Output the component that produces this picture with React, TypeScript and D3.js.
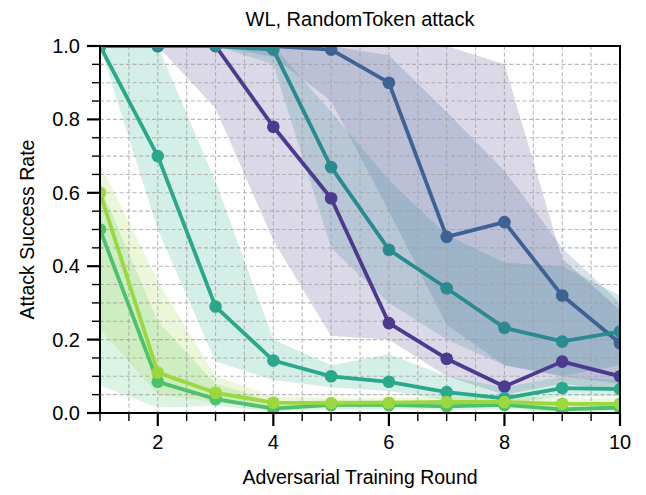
import React from "react";
import * as d3 from "d3";

const rounds = [1, 2, 3, 4, 5, 6, 7, 8, 9, 10];

const s1Mean = [1, 1, 1, 0.78, 0.585, 0.245, 0.148, 0.072, 0.14, 0.1];
const s1Low = [1, 1, 0.83, 0.47, 0.21, 0.2, 0.1, 0.05, 0.08, 0.06];
const s1High = [1, 1, 1, 1, 1, 1, 1, 0.95, 0.42, 0.28];

const s2Mean = [1, 1, 1, 1, 0.99, 0.9, 0.48, 0.52, 0.32, 0.19];
const s2Low = [1, 1, 1, 0.97, 0.85, 0.55, 0.24, 0.13, 0.1, 0.08];
const s2High = [1, 1, 1, 1, 1, 0.975, 0.82, 0.66, 0.45, 0.3];

const s3Mean = [1, 1, 1, 0.99, 0.67, 0.445, 0.34, 0.232, 0.195, 0.222];
const s3Low = [1, 1, 1, 0.95, 0.45, 0.3, 0.2, 0.13, 0.1, 0.13];
const s3High = [1, 1, 1, 1, 0.82, 0.635, 0.485, 0.41, 0.4, 0.32];

const s4Mean = [1, 0.7, 0.29, 0.143, 0.1, 0.085, 0.057, 0.04, 0.068, 0.065];
const s4Low = [1, 0.5, 0.14, 0.09, 0.07, 0.06, 0.035, 0.025, 0.045, 0.045];
const s4High = [1, 1, 0.63, 0.2, 0.13, 0.16, 0.1, 0.07, 0.1, 0.09];

const s5Mean = [0.5, 0.085, 0.038, 0.012, 0.022, 0.022, 0.018, 0.022, 0.01, 0.015];
const s5Low = [0.075, 0.015, 0.02, 0.004, 0.01, 0.01, 0.008, 0.01, 0.003, 0.005];
const s5High = [0.62, 0.25, 0.08, 0.03, 0.035, 0.035, 0.03, 0.035, 0.025, 0.03];

const s6Mean = [0.6, 0.11, 0.055, 0.028, 0.027, 0.028, 0.03, 0.03, 0.025, 0.025];
const s6Low = [0.23, 0.05, 0.03, 0.015, 0.015, 0.015, 0.018, 0.018, 0.015, 0.015];
const s6High = [0.68, 0.36, 0.1, 0.045, 0.04, 0.04, 0.045, 0.045, 0.04, 0.04];

const seriesColors = ["#4b3a8e", "#3e6294", "#2b8990", "#2aa88a", "#4cc26c", "#9ad83e"];

const xTickLabels = [2, 4, 6, 8, 10];
const yTickLabels = [0, 0.2, 0.4, 0.6, 0.8, 1.0];

const title = "WL, RandomToken attack";
const xLabel = "Adversarial Training Round";
const yLabel = "Attack Success Rate";

const W = 646;
const H = 495;
const L = 100;
const R = 620;
const T = 46;
const B = 413;

export default function App() {
  const x = d3.scaleLinear().domain([1, 10]).range([L, R]);
  const y = d3.scaleLinear().domain([0, 1]).range([B, T]);

  const series = [
    { mean: s1Mean, low: s1Low, high: s1High },
    { mean: s2Mean, low: s2Low, high: s2High },
    { mean: s3Mean, low: s3Low, high: s3High },
    { mean: s4Mean, low: s4Low, high: s4High },
    { mean: s5Mean, low: s5Low, high: s5High },
    { mean: s6Mean, low: s6Low, high: s6High },
  ].map((s, i) => ({ ...s, color: seriesColors[i] }));

  const line = d3
    .line<number>()
    .x((_, i) => x(rounds[i]))
    .y((d) => y(d));

  const bandArea = (low: number[], high: number[]) =>
    d3
      .area<number>()
      .x((_, i) => x(rounds[i]))
      .y0((_, i) => y(low[i]))
      .y1((_, i) => y(high[i]))(low) || "";

  const xGrid = d3.range(1, 10.01, 0.5);
  const yGrid = d3.range(0, 1.001, 0.05);
  const font = "'Liberation Sans', Arial, sans-serif";

  return (
    <svg
      width={W}
      height={H}
      style={{ position: "absolute", left: 0, top: 0, background: "#fff" }}
      fontFamily={font}
    >
      <defs>
        <clipPath id="plotClip">
          <rect x={L} y={T} width={R - L} height={B - T} />
        </clipPath>
      </defs>
      <rect x={0} y={0} width={W} height={H} fill="#fff" />
      <g clipPath="url(#plotClip)">
        {series.map((s, i) => (
          <path key={"band" + i} d={bandArea(s.low, s.high)} fill={s.color} fillOpacity={0.2} stroke="none" />
        ))}
        {xGrid.map((v, i) => (
          <line
            key={"gx" + i}
            x1={x(v)}
            x2={x(v)}
            y1={T}
            y2={B}
            stroke="#a0a0a0"
            strokeOpacity={0.75}
            strokeWidth={1.1}
            strokeDasharray="4,2.5"
          />
        ))}
        {yGrid.map((v, i) => (
          <line
            key={"gy" + i}
            x1={L}
            x2={R}
            y1={y(v)}
            y2={y(v)}
            stroke="#a0a0a0"
            strokeOpacity={0.75}
            strokeWidth={1.1}
            strokeDasharray="4,2.5"
          />
        ))}
        {series.map((s, i) => (
          <g key={"ser" + i}>
            <path d={line(s.mean) || ""} fill="none" stroke={s.color} strokeWidth={3.8} strokeLinejoin="round" />
            {s.mean.map((v, j) => (
              <circle key={j} cx={x(rounds[j])} cy={y(v)} r={6.3} fill={s.color} />
            ))}
          </g>
        ))}
      </g>
      <rect x={L} y={T} width={R - L} height={B - T} fill="none" stroke="#000" strokeWidth={2} />
      {xGrid.map((v, i) => {
        const major = xTickLabels.includes(v);
        return (
          <line
            key={"xt" + i}
            x1={x(v)}
            x2={x(v)}
            y1={B}
            y2={B + (major ? 13 : 8)}
            stroke="#000"
            strokeWidth={major ? 2.2 : 1.4}
          />
        );
      })}
      {xTickLabels.map((v) => (
        <text key={"xl" + v} x={x(v)} y={449} textAnchor="middle" fontSize={20} fill="#000">
          {v}
        </text>
      ))}
      {yGrid.map((v, i) => {
        const major = Math.abs(v * 5 - Math.round(v * 5)) < 1e-6;
        return (
          <line
            key={"yt" + i}
            x1={L - (major ? 13 : 8)}
            x2={L}
            y1={y(v)}
            y2={y(v)}
            stroke="#000"
            strokeWidth={major ? 2.2 : 1.4}
          />
        );
      })}
      {yTickLabels.map((v) => (
        <text key={"yl" + v} x={80} y={y(v) + 7} textAnchor="end" fontSize={20} fill="#000">
          {v.toFixed(1)}
        </text>
      ))}
      <text x={(L + R) / 2} y={26} textAnchor="middle" fontSize={20} fill="#000">
        {title}
      </text>
      <text x={(L + R) / 2} y={484} textAnchor="middle" fontSize={19.5} fill="#000">
        {xLabel}
      </text>
      <text
        transform={`translate(34, ${(T + B) / 2}) rotate(-90)`}
        textAnchor="middle"
        fontSize={19.5}
        fill="#000"
      >
        {yLabel}
      </text>
    </svg>
  );
}
